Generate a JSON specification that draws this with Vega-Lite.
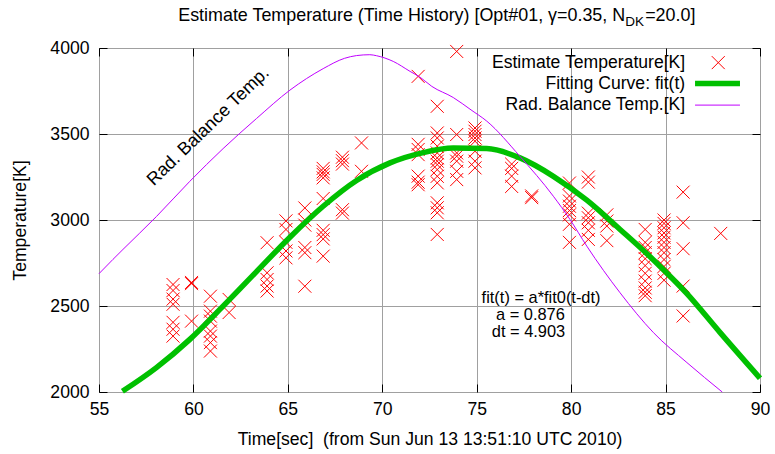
{
  "$schema": "https://vega.github.io/schema/vega-lite/v6.json",
  "width": 661,
  "height": 344,
  "autosize": {"type": "none"},
  "padding": {"left": 99, "top": 48, "right": 15, "bottom": 62},
  "background": "white",
  "config": {
    "font": "Liberation Sans",
    "view": {"stroke": "black", "strokeWidth": 1},
    "text": {"font": "Liberation Sans", "fontSize": 17.6, "color": "black"}
  },
  "datasets": {
    "est": [
      {"t": 58.92, "T": 2625, "series": "Estimate Temperature[K]"},
      {"t": 58.92, "T": 2590, "series": "Estimate Temperature[K]"},
      {"t": 58.92, "T": 2540, "series": "Estimate Temperature[K]"},
      {"t": 58.92, "T": 2510, "series": "Estimate Temperature[K]"},
      {"t": 58.92, "T": 2405, "series": "Estimate Temperature[K]"},
      {"t": 58.92, "T": 2365, "series": "Estimate Temperature[K]"},
      {"t": 58.92, "T": 2325, "series": "Estimate Temperature[K]"},
      {"t": 59.9, "T": 2637, "series": "Estimate Temperature[K]"},
      {"t": 59.9, "T": 2630, "series": "Estimate Temperature[K]"},
      {"t": 59.9, "T": 2412, "series": "Estimate Temperature[K]"},
      {"t": 60.9, "T": 2557, "series": "Estimate Temperature[K]"},
      {"t": 60.9, "T": 2470, "series": "Estimate Temperature[K]"},
      {"t": 60.9, "T": 2441, "series": "Estimate Temperature[K]"},
      {"t": 60.9, "T": 2412, "series": "Estimate Temperature[K]"},
      {"t": 60.9, "T": 2354, "series": "Estimate Temperature[K]"},
      {"t": 60.9, "T": 2325, "series": "Estimate Temperature[K]"},
      {"t": 60.9, "T": 2287, "series": "Estimate Temperature[K]"},
      {"t": 60.9, "T": 2238, "series": "Estimate Temperature[K]"},
      {"t": 61.89, "T": 2538, "series": "Estimate Temperature[K]"},
      {"t": 61.89, "T": 2462, "series": "Estimate Temperature[K]"},
      {"t": 63.9, "T": 2868, "series": "Estimate Temperature[K]"},
      {"t": 63.9, "T": 2693, "series": "Estimate Temperature[K]"},
      {"t": 63.9, "T": 2654, "series": "Estimate Temperature[K]"},
      {"t": 63.9, "T": 2616, "series": "Estimate Temperature[K]"},
      {"t": 63.9, "T": 2587, "series": "Estimate Temperature[K]"},
      {"t": 64.9, "T": 2995, "series": "Estimate Temperature[K]"},
      {"t": 64.9, "T": 2945, "series": "Estimate Temperature[K]"},
      {"t": 64.9, "T": 2870, "series": "Estimate Temperature[K]"},
      {"t": 64.9, "T": 2820, "series": "Estimate Temperature[K]"},
      {"t": 64.9, "T": 2780, "series": "Estimate Temperature[K]"},
      {"t": 65.9, "T": 3070, "series": "Estimate Temperature[K]"},
      {"t": 65.9, "T": 3000, "series": "Estimate Temperature[K]"},
      {"t": 65.9, "T": 2970, "series": "Estimate Temperature[K]"},
      {"t": 65.9, "T": 2840, "series": "Estimate Temperature[K]"},
      {"t": 65.9, "T": 2810, "series": "Estimate Temperature[K]"},
      {"t": 65.9, "T": 2615, "series": "Estimate Temperature[K]"},
      {"t": 66.87, "T": 3300, "series": "Estimate Temperature[K]"},
      {"t": 66.87, "T": 3280, "series": "Estimate Temperature[K]"},
      {"t": 66.87, "T": 3265, "series": "Estimate Temperature[K]"},
      {"t": 66.87, "T": 3245, "series": "Estimate Temperature[K]"},
      {"t": 66.87, "T": 3125, "series": "Estimate Temperature[K]"},
      {"t": 66.87, "T": 2940, "series": "Estimate Temperature[K]"},
      {"t": 66.87, "T": 2915, "series": "Estimate Temperature[K]"},
      {"t": 66.87, "T": 2890, "series": "Estimate Temperature[K]"},
      {"t": 66.87, "T": 2790, "series": "Estimate Temperature[K]"},
      {"t": 67.89, "T": 3365, "series": "Estimate Temperature[K]"},
      {"t": 67.89, "T": 3345, "series": "Estimate Temperature[K]"},
      {"t": 67.89, "T": 3325, "series": "Estimate Temperature[K]"},
      {"t": 67.89, "T": 3060, "series": "Estimate Temperature[K]"},
      {"t": 67.89, "T": 3040, "series": "Estimate Temperature[K]"},
      {"t": 68.9, "T": 3448, "series": "Estimate Temperature[K]"},
      {"t": 68.9, "T": 3283, "series": "Estimate Temperature[K]"},
      {"t": 71.9, "T": 3835, "series": "Estimate Temperature[K]"},
      {"t": 71.9, "T": 3440, "series": "Estimate Temperature[K]"},
      {"t": 71.9, "T": 3410, "series": "Estimate Temperature[K]"},
      {"t": 71.9, "T": 3380, "series": "Estimate Temperature[K]"},
      {"t": 71.9, "T": 3255, "series": "Estimate Temperature[K]"},
      {"t": 71.9, "T": 3220, "series": "Estimate Temperature[K]"},
      {"t": 71.9, "T": 3205, "series": "Estimate Temperature[K]"},
      {"t": 72.91, "T": 3661, "series": "Estimate Temperature[K]"},
      {"t": 72.91, "T": 3506, "series": "Estimate Temperature[K]"},
      {"t": 72.91, "T": 3477, "series": "Estimate Temperature[K]"},
      {"t": 72.91, "T": 3429, "series": "Estimate Temperature[K]"},
      {"t": 72.91, "T": 3390, "series": "Estimate Temperature[K]"},
      {"t": 72.91, "T": 3361, "series": "Estimate Temperature[K]"},
      {"t": 72.91, "T": 3342, "series": "Estimate Temperature[K]"},
      {"t": 72.91, "T": 3322, "series": "Estimate Temperature[K]"},
      {"t": 72.91, "T": 3293, "series": "Estimate Temperature[K]"},
      {"t": 72.91, "T": 3254, "series": "Estimate Temperature[K]"},
      {"t": 72.91, "T": 3216, "series": "Estimate Temperature[K]"},
      {"t": 72.91, "T": 3100, "series": "Estimate Temperature[K]"},
      {"t": 72.91, "T": 3071, "series": "Estimate Temperature[K]"},
      {"t": 72.91, "T": 3042, "series": "Estimate Temperature[K]"},
      {"t": 72.91, "T": 2916, "series": "Estimate Temperature[K]"},
      {"t": 73.94, "T": 3980, "series": "Estimate Temperature[K]"},
      {"t": 73.94, "T": 3497, "series": "Estimate Temperature[K]"},
      {"t": 73.94, "T": 3390, "series": "Estimate Temperature[K]"},
      {"t": 73.94, "T": 3371, "series": "Estimate Temperature[K]"},
      {"t": 73.94, "T": 3342, "series": "Estimate Temperature[K]"},
      {"t": 73.94, "T": 3283, "series": "Estimate Temperature[K]"},
      {"t": 73.94, "T": 3235, "series": "Estimate Temperature[K]"},
      {"t": 74.91, "T": 3535, "series": "Estimate Temperature[K]"},
      {"t": 74.91, "T": 3516, "series": "Estimate Temperature[K]"},
      {"t": 74.91, "T": 3497, "series": "Estimate Temperature[K]"},
      {"t": 74.91, "T": 3477, "series": "Estimate Temperature[K]"},
      {"t": 74.91, "T": 3458, "series": "Estimate Temperature[K]"},
      {"t": 74.91, "T": 3400, "series": "Estimate Temperature[K]"},
      {"t": 74.91, "T": 3342, "series": "Estimate Temperature[K]"},
      {"t": 74.91, "T": 3303, "series": "Estimate Temperature[K]"},
      {"t": 76.85, "T": 3325, "series": "Estimate Temperature[K]"},
      {"t": 76.85, "T": 3300, "series": "Estimate Temperature[K]"},
      {"t": 76.85, "T": 3255, "series": "Estimate Temperature[K]"},
      {"t": 76.85, "T": 3195, "series": "Estimate Temperature[K]"},
      {"t": 77.91, "T": 3140, "series": "Estimate Temperature[K]"},
      {"t": 77.91, "T": 3130, "series": "Estimate Temperature[K]"},
      {"t": 79.91, "T": 3215, "series": "Estimate Temperature[K]"},
      {"t": 79.91, "T": 3140, "series": "Estimate Temperature[K]"},
      {"t": 79.91, "T": 3110, "series": "Estimate Temperature[K]"},
      {"t": 79.91, "T": 3080, "series": "Estimate Temperature[K]"},
      {"t": 79.91, "T": 3055, "series": "Estimate Temperature[K]"},
      {"t": 79.91, "T": 3030, "series": "Estimate Temperature[K]"},
      {"t": 79.91, "T": 2975, "series": "Estimate Temperature[K]"},
      {"t": 79.91, "T": 2870, "series": "Estimate Temperature[K]"},
      {"t": 80.91, "T": 3250, "series": "Estimate Temperature[K]"},
      {"t": 80.91, "T": 3220, "series": "Estimate Temperature[K]"},
      {"t": 80.91, "T": 3040, "series": "Estimate Temperature[K]"},
      {"t": 80.91, "T": 3013, "series": "Estimate Temperature[K]"},
      {"t": 80.91, "T": 2984, "series": "Estimate Temperature[K]"},
      {"t": 80.91, "T": 2940, "series": "Estimate Temperature[K]"},
      {"t": 80.91, "T": 2887, "series": "Estimate Temperature[K]"},
      {"t": 81.89, "T": 3030, "series": "Estimate Temperature[K]"},
      {"t": 81.89, "T": 2994, "series": "Estimate Temperature[K]"},
      {"t": 81.89, "T": 2965, "series": "Estimate Temperature[K]"},
      {"t": 81.89, "T": 2880, "series": "Estimate Temperature[K]"},
      {"t": 83.92, "T": 2945, "series": "Estimate Temperature[K]"},
      {"t": 83.92, "T": 2870, "series": "Estimate Temperature[K]"},
      {"t": 83.92, "T": 2840, "series": "Estimate Temperature[K]"},
      {"t": 83.92, "T": 2810, "series": "Estimate Temperature[K]"},
      {"t": 83.92, "T": 2775, "series": "Estimate Temperature[K]"},
      {"t": 83.92, "T": 2735, "series": "Estimate Temperature[K]"},
      {"t": 83.92, "T": 2690, "series": "Estimate Temperature[K]"},
      {"t": 83.92, "T": 2645, "series": "Estimate Temperature[K]"},
      {"t": 83.92, "T": 2605, "series": "Estimate Temperature[K]"},
      {"t": 83.92, "T": 2580, "series": "Estimate Temperature[K]"},
      {"t": 83.92, "T": 2560, "series": "Estimate Temperature[K]"},
      {"t": 84.92, "T": 3000, "series": "Estimate Temperature[K]"},
      {"t": 84.92, "T": 2980, "series": "Estimate Temperature[K]"},
      {"t": 84.92, "T": 2955, "series": "Estimate Temperature[K]"},
      {"t": 84.92, "T": 2925, "series": "Estimate Temperature[K]"},
      {"t": 84.92, "T": 2900, "series": "Estimate Temperature[K]"},
      {"t": 84.92, "T": 2870, "series": "Estimate Temperature[K]"},
      {"t": 84.92, "T": 2840, "series": "Estimate Temperature[K]"},
      {"t": 84.92, "T": 2810, "series": "Estimate Temperature[K]"},
      {"t": 84.92, "T": 2770, "series": "Estimate Temperature[K]"},
      {"t": 84.92, "T": 2730, "series": "Estimate Temperature[K]"},
      {"t": 84.92, "T": 2690, "series": "Estimate Temperature[K]"},
      {"t": 84.92, "T": 2650, "series": "Estimate Temperature[K]"},
      {"t": 85.93, "T": 3162, "series": "Estimate Temperature[K]"},
      {"t": 85.93, "T": 2984, "series": "Estimate Temperature[K]"},
      {"t": 85.93, "T": 2833, "series": "Estimate Temperature[K]"},
      {"t": 85.93, "T": 2616, "series": "Estimate Temperature[K]"},
      {"t": 85.93, "T": 2442, "series": "Estimate Temperature[K]"},
      {"t": 87.92, "T": 2922, "series": "Estimate Temperature[K]"}
    ],
    "fit": [
      {"t": 56.24, "T": 2004, "series": "Fitting Curve: fit(t)"},
      {"t": 58.04, "T": 2142, "series": "Fitting Curve: fit(t)"},
      {"t": 59.81, "T": 2306, "series": "Fitting Curve: fit(t)"},
      {"t": 61.57, "T": 2499, "series": "Fitting Curve: fit(t)"},
      {"t": 63.34, "T": 2700, "series": "Fitting Curve: fit(t)"},
      {"t": 65.11, "T": 2900, "series": "Fitting Curve: fit(t)"},
      {"t": 66.87, "T": 3080, "series": "Fitting Curve: fit(t)"},
      {"t": 68.64, "T": 3230, "series": "Fitting Curve: fit(t)"},
      {"t": 70.41, "T": 3332, "series": "Fitting Curve: fit(t)"},
      {"t": 72.17, "T": 3392, "series": "Fitting Curve: fit(t)"},
      {"t": 73.76, "T": 3418, "series": "Fitting Curve: fit(t)"},
      {"t": 75.53, "T": 3415, "series": "Fitting Curve: fit(t)"},
      {"t": 77.29, "T": 3361, "series": "Fitting Curve: fit(t)"},
      {"t": 79.06, "T": 3254, "series": "Fitting Curve: fit(t)"},
      {"t": 80.83, "T": 3115, "series": "Fitting Curve: fit(t)"},
      {"t": 82.59, "T": 2945, "series": "Fitting Curve: fit(t)"},
      {"t": 84.36, "T": 2768, "series": "Fitting Curve: fit(t)"},
      {"t": 86.13, "T": 2572, "series": "Fitting Curve: fit(t)"},
      {"t": 87.89, "T": 2345, "series": "Fitting Curve: fit(t)"},
      {"t": 90.0, "T": 2080, "series": "Fitting Curve: fit(t)"}
    ],
    "rad": [
      {"t": 55.0, "T": 2688, "series": "Rad. Balance Temp.[K]"},
      {"t": 55.74, "T": 2771, "series": "Rad. Balance Temp.[K]"},
      {"t": 56.27, "T": 2829, "series": "Rad. Balance Temp.[K]"},
      {"t": 58.04, "T": 3020, "series": "Rad. Balance Temp.[K]"},
      {"t": 59.81, "T": 3225, "series": "Rad. Balance Temp.[K]"},
      {"t": 61.57, "T": 3415, "series": "Rad. Balance Temp.[K]"},
      {"t": 63.34, "T": 3590, "series": "Rad. Balance Temp.[K]"},
      {"t": 65.11, "T": 3755, "series": "Rad. Balance Temp.[K]"},
      {"t": 66.87, "T": 3880, "series": "Rad. Balance Temp.[K]"},
      {"t": 68.0, "T": 3940, "series": "Rad. Balance Temp.[K]"},
      {"t": 68.64, "T": 3956, "series": "Rad. Balance Temp.[K]"},
      {"t": 69.34, "T": 3961, "series": "Rad. Balance Temp.[K]"},
      {"t": 69.7, "T": 3955, "series": "Rad. Balance Temp.[K]"},
      {"t": 70.58, "T": 3922, "series": "Rad. Balance Temp.[K]"},
      {"t": 71.47, "T": 3864, "series": "Rad. Balance Temp.[K]"},
      {"t": 72.0, "T": 3830, "series": "Rad. Balance Temp.[K]"},
      {"t": 72.62, "T": 3777, "series": "Rad. Balance Temp.[K]"},
      {"t": 73.76, "T": 3712, "series": "Rad. Balance Temp.[K]"},
      {"t": 74.7, "T": 3640, "series": "Rad. Balance Temp.[K]"},
      {"t": 75.53, "T": 3575, "series": "Rad. Balance Temp.[K]"},
      {"t": 77.29, "T": 3370, "series": "Rad. Balance Temp.[K]"},
      {"t": 79.06, "T": 3138, "series": "Rad. Balance Temp.[K]"},
      {"t": 79.94, "T": 3003, "series": "Rad. Balance Temp.[K]"},
      {"t": 80.83, "T": 2848, "series": "Rad. Balance Temp.[K]"},
      {"t": 82.59, "T": 2577, "series": "Rad. Balance Temp.[K]"},
      {"t": 84.36, "T": 2345, "series": "Rad. Balance Temp.[K]"},
      {"t": 86.13, "T": 2171, "series": "Rad. Balance Temp.[K]"},
      {"t": 88.0, "T": 2000, "series": "Rad. Balance Temp.[K]"}
    ]
  },
  "resolve": {"axis": {"x": "independent", "y": "independent"}},
  "layer": [
    {
      "data": {"name": "est"},
      "mark": {"type": "point", "shape": "M-1,-1L1,1M-1,1L1,-1", "size": 169, "filled": false, "strokeWidth": 1, "opacity": 1},
      "encoding": {
        "x": {
          "field": "t", "type": "quantitative",
          "scale": {"domain": [55, 90], "nice": false, "zero": false},
          "axis": {
            "orient": "bottom", "values": [55, 60, 65, 70, 75, 80, 85, 90], "format": "d",
            "grid": true, "gridColor": "#a0a0a0", "gridWidth": 1, "domain": false,
            "ticks": true, "tickSize": -8, "tickColor": "black", "tickWidth": 1,
            "labelFontSize": 17.6, "labelColor": "black", "labelFont": "Liberation Sans", "labelPadding": 16,
            "labelFlush": false, "labelOverlap": false,
            "title": "Time[sec]\u00a0\u00a0(from Sun Jun 13 13:51:10 UTC 2010)",
            "titleFontSize": 17.6, "titleFontWeight": "normal", "titleColor": "black", "titleFont": "Liberation Sans", "titlePadding": 13
          }
        },
        "y": {
          "field": "T", "type": "quantitative",
          "scale": {"domain": [2000, 4000], "nice": false, "zero": false},
          "axis": {
            "orient": "left", "values": [2000, 2500, 3000, 3500, 4000], "format": "d",
            "grid": true, "gridColor": "#a0a0a0", "gridWidth": 1, "domain": false,
            "ticks": true, "tickSize": -8, "tickColor": "black", "tickWidth": 1,
            "labelFontSize": 17.6, "labelColor": "black", "labelFont": "Liberation Sans", "labelPadding": 18,
            "labelFlush": false, "labelOverlap": false,
            "title": "Temperature[K]",
            "titleFontSize": 17.6, "titleFontWeight": "normal", "titleColor": "black", "titleFont": "Liberation Sans", "titlePadding": 20
          }
        },
        "color": {
          "field": "series", "type": "nominal",
          "scale": {"domain": ["Estimate Temperature[K]", "Fitting Curve: fit(t)", "Rad. Balance Temp.[K]"], "range": ["#ff0000", "#00c000", "#c000ff"]},
          "legend": null
        }
      }
    },
    {
      "data": {"name": "fit"},
      "mark": {"type": "line", "strokeWidth": 5.5, "interpolate": "monotone"},
      "encoding": {
        "x": {"field": "t", "type": "quantitative", "axis": {"orient": "top", "values": [55, 60, 65, 70, 75, 80, 85, 90], "labels": false, "grid": false, "domain": false, "ticks": true, "tickSize": -8, "tickColor": "black", "title": null}},
        "y": {"field": "T", "type": "quantitative", "axis": {"orient": "right", "values": [2000, 2500, 3000, 3500, 4000], "labels": false, "grid": false, "domain": false, "ticks": true, "tickSize": -8, "tickColor": "black", "title": null}},
        "color": {"field": "series", "type": "nominal", "legend": null}
      }
    },
    {
      "data": {"name": "rad"},
      "mark": {"type": "line", "strokeWidth": 1, "interpolate": "monotone"},
      "encoding": {
        "x": {"field": "t", "type": "quantitative", "axis": null},
        "y": {"field": "T", "type": "quantitative", "axis": null},
        "color": {"field": "series", "type": "nominal", "legend": null}
      }
    },
    {
      "data": {"values": [{"label": "Estimate Temperature[K]"}]},
      "mark": {"type": "text", "align": "right", "baseline": "middle"},
      "encoding": {
        "text": {"field": "label"},
        "x": {"datum": 86.04, "type": "quantitative", "axis": null},
        "y": {"datum": 3915, "type": "quantitative", "axis": null}
      }
    },
    {
      "data": {"values": [{"label": "Fitting Curve: fit(t)"}]},
      "mark": {"type": "text", "align": "right", "baseline": "middle"},
      "encoding": {
        "text": {"field": "label"},
        "x": {"datum": 86.04, "type": "quantitative", "axis": null},
        "y": {"datum": 3793, "type": "quantitative", "axis": null}
      }
    },
    {
      "data": {"values": [{"label": "Rad. Balance Temp.[K]"}]},
      "mark": {"type": "text", "align": "right", "baseline": "middle"},
      "encoding": {
        "text": {"field": "label"},
        "x": {"datum": 86.04, "type": "quantitative", "axis": null},
        "y": {"datum": 3668, "type": "quantitative", "axis": null}
      }
    },
    {
      "data": {"values": [{"series": "Estimate Temperature[K]"}]},
      "mark": {"type": "point", "shape": "M-1,-1L1,1M-1,1L1,-1", "size": 169, "filled": false, "strokeWidth": 1, "opacity": 1, "color": "#ff0000"},
      "encoding": {
        "x": {"datum": 87.79, "type": "quantitative", "axis": null},
        "y": {"datum": 3915, "type": "quantitative", "axis": null}
      }
    },
    {
      "data": {"values": [{"series": "Fitting Curve: fit(t)"}]},
      "mark": {"type": "rule", "strokeWidth": 5.5, "color": "#00c000"},
      "encoding": {
        "x": {"datum": 86.56, "type": "quantitative", "axis": null},
        "x2": {"datum": 88.94},
        "y": {"datum": 3793, "type": "quantitative", "axis": null}
      }
    },
    {
      "data": {"values": [{"series": "Rad. Balance Temp.[K]"}]},
      "mark": {"type": "rule", "strokeWidth": 1, "color": "#c000ff"},
      "encoding": {
        "x": {"datum": 86.56, "type": "quantitative", "axis": null},
        "x2": {"datum": 88.94},
        "y": {"datum": 3668, "type": "quantitative", "axis": null}
      }
    },
    {
      "data": {"values": [{"label": "Rad. Balance Temp."}]},
      "mark": {"type": "text", "angle": 316, "align": "center", "baseline": "middle", "fontSize": 18},
      "encoding": {
        "text": {"field": "label"},
        "x": {"datum": 60.79, "type": "quantitative", "axis": null},
        "y": {"datum": 3543, "type": "quantitative", "axis": null}
      }
    },
    {
      "data": {"values": [{"label": "fit(t) = a*fit0(t-dt)"}]},
      "mark": {"type": "text", "align": "left", "baseline": "alphabetic", "fontSize": 16.4},
      "encoding": {
        "text": {"field": "label"},
        "x": {"datum": 75.26, "type": "quantitative", "axis": null},
        "y": {"datum": 2519, "type": "quantitative", "axis": null}
      }
    },
    {
      "data": {"values": [{"label": "a = 0.876"}]},
      "mark": {"type": "text", "align": "left", "baseline": "alphabetic", "fontSize": 16.4},
      "encoding": {
        "text": {"field": "label"},
        "x": {"datum": 76.02, "type": "quantitative", "axis": null},
        "y": {"datum": 2420, "type": "quantitative", "axis": null}
      }
    },
    {
      "data": {"values": [{"label": "dt = 4.903"}]},
      "mark": {"type": "text", "align": "left", "baseline": "alphabetic", "fontSize": 16.4},
      "encoding": {
        "text": {"field": "label"},
        "x": {"datum": 75.8, "type": "quantitative", "axis": null},
        "y": {"datum": 2321, "type": "quantitative", "axis": null}
      }
    },
    {
      "data": {"values": [{"label": "Estimate Temperature (Time History) [Opt#01, \u03b3=0.35, N"}]},
      "mark": {"type": "text", "align": "right", "baseline": "alphabetic", "fontSize": 17.9},
      "encoding": {
        "text": {"field": "label"},
        "x": {"datum": 82.86, "type": "quantitative", "axis": null},
        "y": {"datum": 4158, "type": "quantitative", "axis": null}
      }
    },
    {
      "data": {"values": [{"label": "DK"}]},
      "mark": {"type": "text", "align": "left", "baseline": "alphabetic", "fontSize": 13.5},
      "encoding": {
        "text": {"field": "label"},
        "x": {"datum": 82.86, "type": "quantitative", "axis": null},
        "y": {"datum": 4130, "type": "quantitative", "axis": null}
      }
    },
    {
      "data": {"values": [{"label": "=20.0]"}]},
      "mark": {"type": "text", "align": "left", "baseline": "alphabetic", "fontSize": 17.9},
      "encoding": {
        "text": {"field": "label"},
        "x": {"datum": 83.92, "type": "quantitative", "axis": null},
        "y": {"datum": 4158, "type": "quantitative", "axis": null}
      }
    }
  ]
}
